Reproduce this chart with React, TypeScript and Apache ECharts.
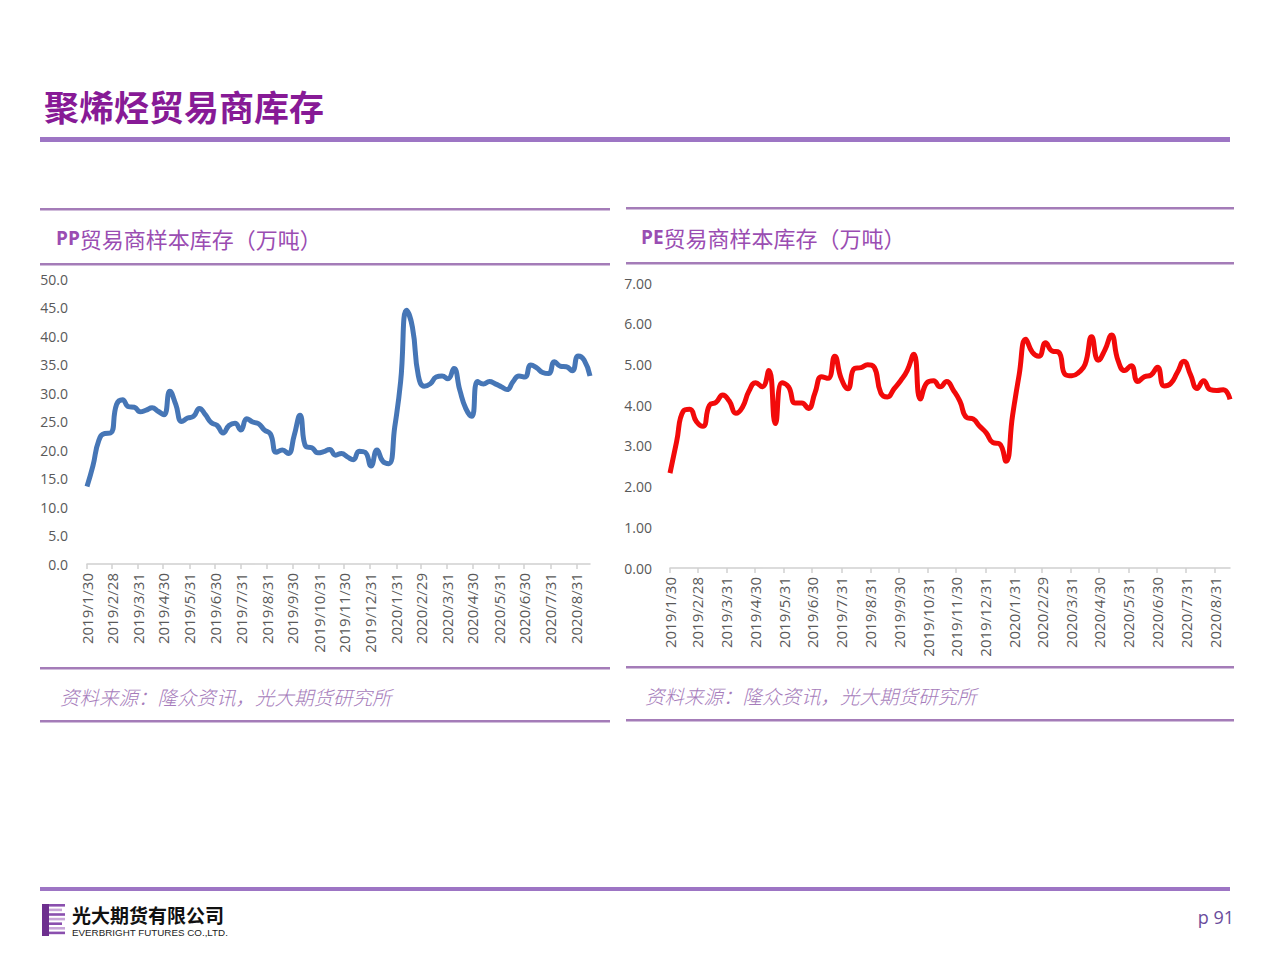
import React, { useEffect, useRef } from "react";
import * as echarts from "echarts";

// ---------- data ----------
const monthEndLabels = [
  "2019/1/30", "2019/2/28", "2019/3/31", "2019/4/30", "2019/5/31", "2019/6/30",
  "2019/7/31", "2019/8/31", "2019/9/30", "2019/10/31", "2019/11/30", "2019/12/31",
  "2020/1/31", "2020/2/29", "2020/3/31", "2020/4/30", "2020/5/31", "2020/6/30",
  "2020/7/31", "2020/8/31",
];

// weekly observations starting 2019/1/30
const ppValues = [
  13.6, 17.2, 21.7, 22.9, 23.0, 28.0, 28.8, 27.6, 27.5, 26.7,
  27.0, 27.4, 26.8, 26.2, 30.3, 28.0, 25.0, 25.6, 25.9, 27.3,
  26.2, 24.8, 24.3, 23.0, 24.3, 24.7, 23.5, 25.5, 24.9, 24.6,
  23.5, 22.8, 19.6, 20.0, 19.4, 22.5, 26.1, 20.6, 20.4, 19.5,
  19.7, 20.1, 19.1, 19.4, 18.8, 18.3, 19.8, 19.6, 17.2, 20.0,
  18.0, 17.6, 24.0, 32.0, 44.5, 41.5, 33.0, 31.2, 31.6, 32.8,
  33.0, 32.5, 34.3, 30.5, 27.3, 25.9, 32.0, 31.6, 32.0, 31.6,
  31.1, 30.6, 32.0, 33.0, 32.8, 34.9, 34.4, 33.6, 33.4, 35.5,
  34.7, 34.6, 33.9, 36.5, 35.8, 33.0,
];

const peValues = [
  2.33, 3.1, 3.85, 3.9, 3.6, 3.48, 4.0, 4.07, 4.25, 4.1,
  3.8, 3.95, 4.35, 4.55, 4.45, 4.85, 3.55, 4.55, 4.45, 4.05,
  4.05, 3.92, 4.3, 4.7, 4.66, 5.2, 4.65, 4.4, 4.9, 4.92,
  4.99, 4.93, 4.3, 4.2, 4.4, 4.6, 4.85, 5.25, 4.15, 4.55,
  4.6, 4.45, 4.58, 4.37, 4.1, 3.7, 3.66, 3.48, 3.32, 3.08,
  3.05, 2.62, 3.75, 4.75, 5.62, 5.3, 5.2, 5.53, 5.33, 5.3,
  4.75, 4.72, 4.8, 5.0, 5.68, 5.1, 5.35, 5.72, 5.1, 4.85,
  4.97, 4.58, 4.7, 4.74, 4.93, 4.47, 4.53, 4.8, 5.08, 4.75,
  4.41, 4.6, 4.38, 4.36, 4.38, 4.14,
];

// ---------- axis helpers ----------
const DAY = 86400000;
const T0 = Date.UTC(2019, 0, 30);
const fmt = (t: number) => {
  const d = new Date(t);
  return `${d.getUTCFullYear()}/${d.getUTCMonth() + 1}/${d.getUTCDate()}`;
};
const dayCount = (ppValues.length - 1) * 7 + 1;
const dayCategories: string[] = [];
for (let i = 0; i < dayCount; i++) dayCategories.push(fmt(T0 + i * DAY));
const weekDates = ppValues.map((_, i) => dayCategories[i * 7]);
const labelSet = new Set(monthEndLabels);
const showLabel = (_i: number, v: string) => labelSet.has(v);

const PURPLE_LINE = "#a47cb8";
const SUB_COLOR = "#9a4db2";
const SRC_COLOR = "#a67cbb";
const AXIS_GREY = "#d0d0d0";
const LABEL_GREY = "#595959";

function xAxisFor(gridIndex: number) {
  return {
    type: "category",
    gridIndex,
    data: dayCategories,
    boundaryGap: false,
    axisLine: { show: true, lineStyle: { color: AXIS_GREY, width: 1.5 } },
    axisTick: { show: true, interval: showLabel, length: 5, lineStyle: { color: AXIS_GREY, width: 1.5 } },
    axisLabel: {
      interval: showLabel,
      rotate: 90,
      margin: 9,
      color: LABEL_GREY,
      fontSize: 15,
      fontFamily: "Open Sans",
    },
    splitLine: { show: false },
  };
}

function yAxisFor(gridIndex: number, max: number, interval: number, digits: number, margin: number) {
  return {
    type: "value",
    gridIndex,
    min: 0,
    max,
    interval,
    axisLine: { show: false },
    axisTick: { show: false },
    splitLine: { show: false },
    axisLabel: {
      margin,
      color: LABEL_GREY,
      fontSize: 14,
      fontFamily: "Open Sans",
      formatter: (v: number) => v.toFixed(digits),
    },
  };
}

function hline(x: number, y: number, w: number, h: number, fill: string) {
  return { type: "rect", shape: { x, y, width: w, height: h }, style: { fill }, silent: true };
}

function panelTitle(x: number, y: number, prefix: string) {
  return {
    type: "text",
    x,
    y,
    style: {
      text: `{b|${prefix}}{n|贸易商样本库存（万吨）}`,
      fill: SUB_COLOR,
      textVerticalAlign: "middle",
      rich: {
        b: { fontFamily: "Open Sans", fontWeight: "bold", fontSize: 19, fill: SUB_COLOR },
        n: { fontFamily: "Noto Sans CJK SC", fontSize: 22, fill: SUB_COLOR },
      },
    },
  };
}

function sourceText(x: number, y: number) {
  return {
    type: "text",
    x,
    y,
    style: {
      text: "资料来源：隆众资讯，光大期货研究所",
      fill: SRC_COLOR,
      fontFamily: "Noto Sans CJK SC",
      fontStyle: "italic",
      fontWeight: 300,
      fontSize: 19.5,
      textVerticalAlign: "middle",
    },
  };
}

function logo() {
  const children: any[] = [
    { type: "rect", shape: { x: 42, y: 904, width: 7, height: 32 }, style: { fill: "#6d2f8e" } },
  ];
  for (let i = 0; i < 7; i++) {
    children.push({
      type: "rect",
      shape: { x: 49, y: 904 + i * 4.6, width: 16 - (i % 3 === 1 ? 3 : 0), height: 2.6 },
      style: { fill: i % 2 === 0 ? "#8a4fae" : "#c8a6d8" },
    });
  }
  return { type: "group", children };
}

export default function App() {
  const ref = useRef<HTMLDivElement>(null);

  useEffect(() => {
    if (!ref.current) return;
    const chart = echarts.init(ref.current, undefined, { renderer: "svg" });
    const option: any = {
      animation: false,
      backgroundColor: "#ffffff",
      grid: [
        { left: 87, top: 279, width: 503, height: 285, containLabel: false },
        { left: 670, top: 283, width: 560, height: 285, containLabel: false },
      ],
      xAxis: [xAxisFor(0), xAxisFor(1)],
      yAxis: [yAxisFor(0, 50, 5, 1, 19), yAxisFor(1, 7, 1, 2, 18)],
      series: [
        {
          type: "line",
          xAxisIndex: 0,
          yAxisIndex: 0,
          data: weekDates.map((d, i) => [d, ppValues[i]]),
          smooth: 0.5,
          showSymbol: false,
          symbol: "none",
          lineStyle: { color: "#4676b6", width: 5 },
          itemStyle: { color: "#4676b6" },
        },
        {
          type: "line",
          xAxisIndex: 1,
          yAxisIndex: 1,
          data: weekDates.map((d, i) => [d, peValues[i]]),
          smooth: 0.5,
          showSymbol: false,
          symbol: "none",
          lineStyle: { color: "#f20a0a", width: 5 },
          itemStyle: { color: "#f20a0a" },
        },
      ],
      graphic: [
        {
          type: "text",
          x: 44,
          y: 105,
          style: {
            text: "聚烯烃贸易商库存",
            fill: "#871a96",
            fontFamily: "Noto Sans CJK SC",
            fontWeight: "bold",
            fontSize: 35,
            textVerticalAlign: "middle",
          },
        },
        hline(40, 137, 1190, 5, "#9d75c4"),
        // left panel
        hline(40, 208, 570, 2.5, PURPLE_LINE),
        panelTitle(56, 238, "PP"),
        hline(40, 263, 570, 2.5, PURPLE_LINE),
        hline(40, 667, 570, 2.5, PURPLE_LINE),
        sourceText(60, 696),
        hline(40, 720, 570, 2.5, PURPLE_LINE),
        // right panel
        hline(626, 207, 608, 2.5, PURPLE_LINE),
        panelTitle(641, 237, "PE"),
        hline(626, 262, 608, 2.5, PURPLE_LINE),
        hline(626, 666, 608, 2.5, PURPLE_LINE),
        sourceText(645, 695),
        hline(626, 719, 608, 2.5, PURPLE_LINE),
        // footer
        hline(40, 887, 1190, 4, "#9d75c4"),
        logo(),
        {
          type: "text",
          x: 72,
          y: 914,
          style: {
            text: "光大期货有限公司",
            fill: "#111111",
            fontFamily: "Noto Sans CJK SC",
            fontWeight: "bold",
            fontSize: 19,
            textVerticalAlign: "middle",
          },
        },
        {
          type: "text",
          x: 72,
          y: 932,
          style: {
            text: "EVERBRIGHT FUTURES CO.,LTD.",
            fill: "#222222",
            fontFamily: "Liberation Sans",
            fontSize: 9.8,
            textVerticalAlign: "middle",
          },
        },
        {
          type: "text",
          x: 1234,
          y: 917,
          style: {
            text: "p 91",
            fill: "#6a4c9c",
            fontFamily: "Open Sans",
            fontSize: 18,
            textAlign: "right",
            textVerticalAlign: "middle",
          },
        },
      ],
    };
    chart.setOption(option);
    return () => chart.dispose();
  }, []);

  return (
    <div
      ref={ref}
      style={{ position: "absolute", left: 0, top: 0, width: 1280, height: 960, background: "#fff" }}
    />
  );
}
